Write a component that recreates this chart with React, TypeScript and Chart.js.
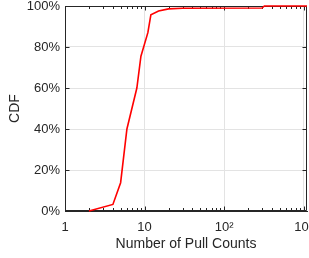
import React, { useEffect, useRef } from "react";
import { Chart, registerables } from "chart.js";

Chart.register(...registerables);

const pullCounts = [2, 4, 5, 6, 8, 9, 11, 12, 15, 20, 30, 300, 320, 1100];
const cdfValues = [0, 0.032, 0.138, 0.4, 0.6, 0.755, 0.87, 0.957, 0.976, 0.986, 0.989, 0.99, 1.0, 1.0];
const xMajorTicks = [1, 10, 100, 1000];
const xTickLabels = ["1", "10", "10²", "10³"];
const yTicks = [0, 0.2, 0.4, 0.6, 0.8, 1.0];

const FONT = "'Liberation Sans', Arial, Helvetica, sans-serif";
const INK = "#262626";
const GRID = "#e3e3e3";

const boxPlugin = {
  id: "matlabBox",
  beforeDatasetsDraw(chart: any) {
    const { ctx, chartArea } = chart;
    const { left, right, top, bottom } = chartArea;
    const xs = chart.scales.x;
    const ys = chart.scales.y;
    ctx.save();
    ctx.strokeStyle = INK;
    ctx.lineWidth = 1;
    ctx.beginPath();
    const L = Math.round(left) + 0.5, R = Math.round(right) - 0.5;
    const T = Math.round(top) + 0.5, B = Math.round(bottom) - 0.5;
    ctx.moveTo(L, T); ctx.lineTo(R, T); ctx.lineTo(R, B); ctx.lineTo(L, B); ctx.lineTo(L, T);
    for (const d of xMajorTicks) {
      const px = Math.round(xs.getPixelForValue(d)) + 0.5;
      if (px >= L - 1 && px <= R + 1) {
        ctx.moveTo(px, B); ctx.lineTo(px, B - 4);
        ctx.moveTo(px, T); ctx.lineTo(px, T + 4);
      }
      for (let m = 2; m <= 9; m++) {
        const v = m * d;
        if (v > xs.max) break;
        const p = Math.round(xs.getPixelForValue(v)) + 0.5;
        ctx.moveTo(p, B); ctx.lineTo(p, B - 2.5);
        ctx.moveTo(p, T); ctx.lineTo(p, T + 2.5);
      }
    }
    for (const v of yTicks) {
      const py = Math.round(ys.getPixelForValue(v)) + 0.5;
      ctx.moveTo(L, py); ctx.lineTo(L + 4, py);
      ctx.moveTo(R, py); ctx.lineTo(R - 4, py);
    }
    ctx.stroke();
    ctx.restore();
  },
};

export default function App() {
  const ref = useRef<HTMLCanvasElement>(null);
  useEffect(() => {
    if (!ref.current) return;
    const chart = new Chart(ref.current, {
      type: "line",
      data: {
        datasets: [
          {
            data: pullCounts.map((x, i) => ({ x, y: cdfValues[i] })),
            borderColor: "#ff0000",
            backgroundColor: "#ff0000",
            borderWidth: 1.6,
            pointRadius: 0,
            tension: 0,
            clip: false,
          },
        ],
      },
      options: {
        responsive: false,
        animation: false,
        layout: { padding: { top: 6, right: 2, left: 0, bottom: 0 } },
        plugins: { legend: { display: false }, tooltip: { enabled: false } },
        scales: {
          x: {
            type: "logarithmic",
            min: 1,
            max: 1100,
            afterBuildTicks: (s: any) => {
              s.ticks = xMajorTicks.map((v) => ({ value: v }));
            },
            afterFit: (s: any) => {
              s.height = 47;
              s.paddingLeft = 0;
              s.paddingRight = 0;
            },
            ticks: {
              autoSkip: false,
              maxRotation: 0,
              padding: 9,
              color: INK,
              font: { family: FONT, size: 13 },
              callback: (v: any) => {
                const i = xMajorTicks.indexOf(Number(v));
                return i >= 0 ? xTickLabels[i] : "";
              },
            },
            grid: { color: GRID, drawTicks: false, lineWidth: 1 },
            border: { display: true, color: INK },
            title: {
              display: true,
              text: "Number of Pull Counts",
              color: INK,
              font: { family: FONT, size: 14 },
              padding: { top: 0, bottom: 5 },
            },
          },
          y: {
            type: "linear",
            min: 0,
            max: 1,
            afterBuildTicks: (s: any) => {
              s.ticks = yTicks.map((v) => ({ value: v }));
            },
            afterFit: (s: any) => {
              s.width = 65;
              s.paddingTop = 0;
              s.paddingBottom = 0;
            },
            ticks: {
              padding: 5,
              color: INK,
              font: { family: FONT, size: 13 },
              callback: (v: any) => Math.round(Number(v) * 100) + "%",
            },
            grid: { color: GRID, drawTicks: false, lineWidth: 1 },
            border: { display: true, color: INK },
            title: {
              display: true,
              text: "CDF",
              color: INK,
              font: { family: FONT, size: 14 },
              padding: { top: 7, bottom: 0 },
            },
          },
        },
      },
      plugins: [boxPlugin],
    });
    return () => chart.destroy();
  }, []);
  return (
    <div style={{ position: "fixed", left: 0, top: 0, width: 309, height: 258, background: "#fff" }}>
      <canvas ref={ref} width={309} height={258} style={{ display: "block" }} />
    </div>
  );
}
